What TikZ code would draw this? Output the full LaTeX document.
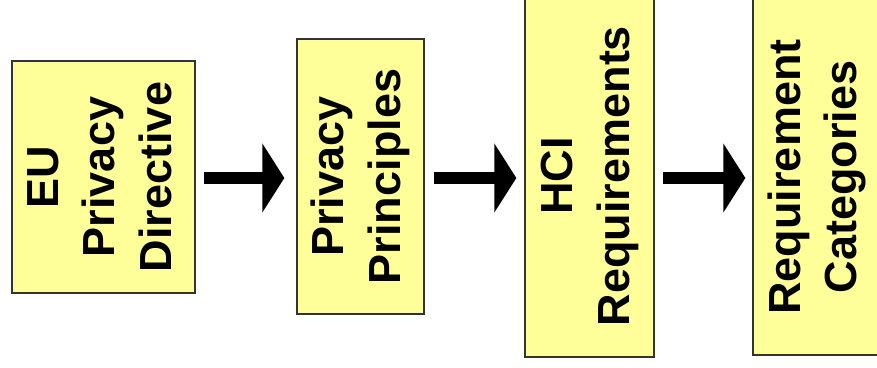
\documentclass[tikz,border=0pt]{standalone}
\usepackage{fontspec}
\setmainfont{Liberation Sans}
\usepackage{graphicx}
\usetikzlibrary{arrows.meta}
\definecolor{boxfill}{HTML}{FFFF99}
\definecolor{boxline}{HTML}{333333}
\tikzset{
  stagebox/.style={draw=boxline, line width=1.3pt, fill=boxfill, inner sep=0pt,
    font=\bfseries\fontsize{45}{56.5}\selectfont},
  flowarrow/.style={line width=12pt, -{Triangle[length=22pt,width=68pt]}},
}
\newcommand{\vlabel}[1]{\rotatebox{90}{\begin{tabular}{@{}c@{}}#1\end{tabular}}}
\begin{document}
\begin{tikzpicture}[x=1pt,y=1pt]
  \useasboundingbox (0,0) rectangle (877,367);
  \node[stagebox, minimum width=183pt, minimum height=232pt] (eu) at (103.5,190)
    {\vlabel{EU\\Privacy\\Directive}};
  \node[stagebox, minimum width=127pt, minimum height=275pt] (pp) at (360.5,190.5)
    {\vlabel{Privacy\\Principles}};
  \node[stagebox, minimum width=129pt, minimum height=362pt] (hci) at (589.5,191)
    {\vlabel{HCI\\Requirements}};
  \node[stagebox, minimum width=128pt, minimum height=356pt] (cat) at (817,190)
    {\vlabel{Requirement\\Categories}};
  \draw[flowarrow] ([xshift=8pt]eu.east |- 0,189) -- ([xshift=-12pt]pp.west |- 0,189);
  \draw[flowarrow] ([xshift=9pt]pp.east |- 0,189) -- ([xshift=-8pt]hci.west |- 0,189);
  \draw[flowarrow] ([xshift=8pt]hci.east |- 0,189) -- ([xshift=-7pt]cat.west |- 0,189);
\end{tikzpicture}
\end{document}
